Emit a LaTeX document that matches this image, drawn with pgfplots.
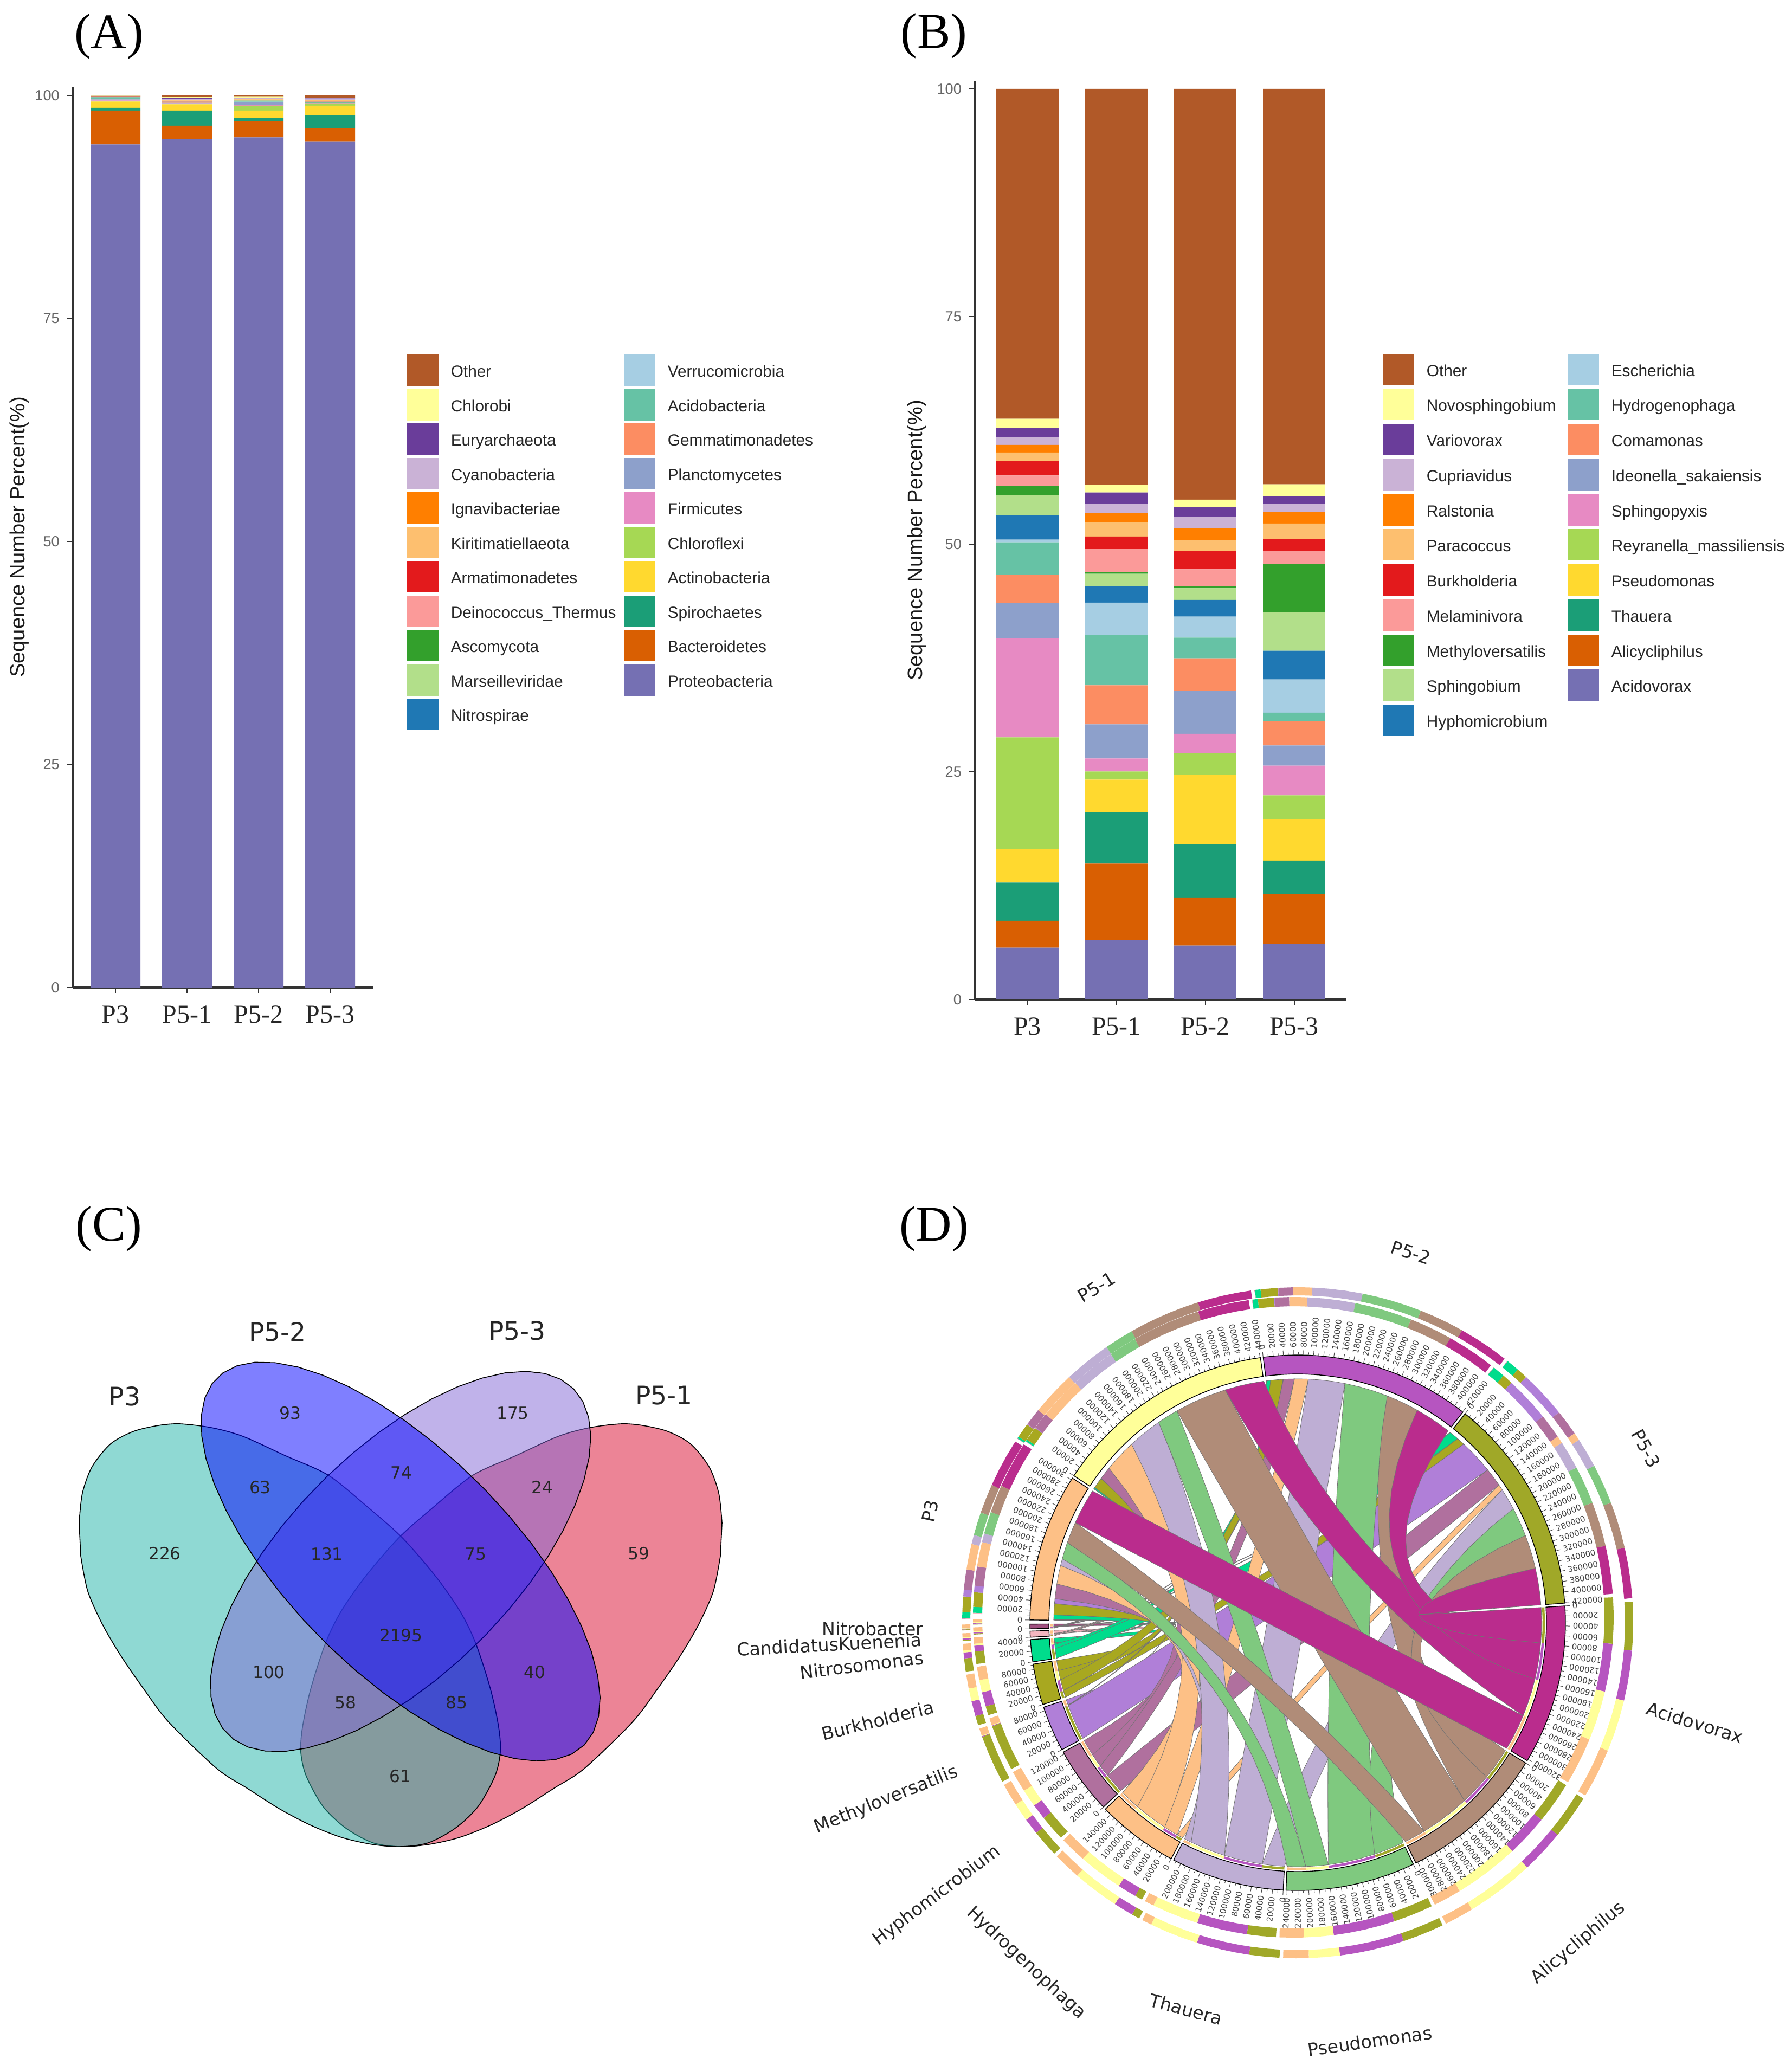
\documentclass[border=0pt]{standalone}
\usepackage{fontspec}
\usepackage{pgfplots}
\usepackage{pgfplotstable}
\pgfplotsset{compat=1.18}
\setmainfont{Liberation Sans}
\newfontfamily\tnr{Liberation Serif}
\newfontfamily\dejavu{DejaVu Sans}

% taxa colours, bottom of the stack first
\definecolor{c1}{HTML}{7570B3}\definecolor{c2}{HTML}{D95F02}\definecolor{c3}{HTML}{1B9E77}
\definecolor{c4}{HTML}{FFD92F}\definecolor{c5}{HTML}{A6D854}\definecolor{c6}{HTML}{E78AC3}
\definecolor{c7}{HTML}{8DA0CB}\definecolor{c8}{HTML}{FC8D62}\definecolor{c9}{HTML}{66C2A5}
\definecolor{c10}{HTML}{A6CEE3}\definecolor{c11}{HTML}{1F78B4}\definecolor{c12}{HTML}{B2DF8A}
\definecolor{c13}{HTML}{33A02C}\definecolor{c14}{HTML}{FB9A99}\definecolor{c15}{HTML}{E31A1C}
\definecolor{c16}{HTML}{FDBF6F}\definecolor{c17}{HTML}{FF7F00}\definecolor{c18}{HTML}{CAB2D6}
\definecolor{c19}{HTML}{6A3D9A}\definecolor{c20}{HTML}{FFFF99}\definecolor{c21}{HTML}{B15928}
% chord diagram: genera and samples
\definecolor{g1}{HTML}{BA2C8D}\definecolor{g2}{HTML}{B08C78}\definecolor{g3}{HTML}{7FC97F}
\definecolor{g4}{HTML}{BEAED4}\definecolor{g5}{HTML}{FDC086}\definecolor{g6}{HTML}{B0709E}
\definecolor{g7}{HTML}{B07FD8}\definecolor{g8}{HTML}{A8A820}\definecolor{g9}{HTML}{00DC8C}
\definecolor{g10}{HTML}{F4B6C0}\definecolor{g11}{HTML}{A05080}
\definecolor{sc1}{HTML}{FDC086}\definecolor{sc2}{HTML}{FFFF99}
\definecolor{sc3}{HTML}{B655C0}\definecolor{sc4}{HTML}{A0A828}
% venn
\definecolor{vA}{RGB}{31,179,167}\definecolor{vB}{RGB}{0,0,255}
\definecolor{vC}{RGB}{129,101,213}\definecolor{vD}{RGB}{217,9,45}

\pgfplotstableread{
pos c1 c2 c3 c4 c5 c6 c7 c8 c9 c10 c11 c12 c13 c14 c15 c16 c17 c18 c19 c20 c21
0 94.5 3.8 0.3 0.7 0.05 0.08 0.12 0.08 0.07 0.04 0.04 0.03 0.01 0.02 0.02 0.01 0.02 0.03 0.02 0.04 0.02
1 95.1 1.5 1.7 0.7 0.05 0.05 0.05 0.03 0.03 0.02 0.02 0.02 0.01 0.05 0.05 0.05 0.03 0.15 0.10 0.10 0.19
2 95.3 1.8 0.4 0.8 0.55 0.05 0.30 0.05 0.05 0.05 0.03 0.03 0.01 0.03 0.03 0.07 0.03 0.10 0.05 0.10 0.17
3 94.8 1.5 1.5 1.05 0.20 0.03 0.03 0.05 0.05 0.02 0.02 0.02 0.01 0.05 0.05 0.07 0.05 0.15 0.05 0.05 0.25
}\tabA
\pgfplotstableread{
pos c1 c2 c3 c4 c5 c6 c7 c8 c9 c10 c11 c12 c13 c14 c15 c16 c17 c18 c19 c20 c21
0 5.68 2.96 4.19 3.70 12.25 10.85 3.90 3.06 3.61 0.30 2.70 2.20 0.96 1.18 1.58 0.94 0.84 0.84 0.99 1.04 36.23
1 6.52 8.39 5.67 3.56 0.89 1.43 3.75 4.29 5.53 3.55 1.78 1.38 0.20 2.52 1.38 1.58 0.99 1.03 1.24 0.84 43.48
2 5.92 5.28 5.83 7.65 2.37 2.12 4.69 3.60 2.27 2.32 1.83 1.28 0.25 1.83 1.97 1.23 1.29 1.28 1.04 0.84 45.11
3 6.07 5.48 3.70 4.54 2.62 3.26 2.22 2.66 0.94 3.65 3.16 4.20 5.33 1.38 1.38 1.68 1.28 0.89 0.79 1.33 43.44
}\tabB

\tikzset{
  rib/.style={draw=black!55,line width=0.2pt},
  tl/.style={inner sep=0pt,text=black!75,font=\dejavu\fontsize{3.7}{4}\selectfont},
  dl/.style={inner sep=0pt,text=black!85,font=\dejavu\fontsize{8.3}{9}\selectfont},
  vl/.style={inner sep=0pt,text=black!85,font=\dejavu\fontsize{11.8}{13}\selectfont},
  pl/.style={inner sep=0pt,font=\tnr\fontsize{23}{24}\selectfont},
  ll/.style={inner sep=0pt,anchor=west,text=black!85,text height=1.5ex,text depth=.3ex,font=\fontsize{7.45}{9}\selectfont},
}
\pgfplotsset{
  barpanel/.style={
    scale only axis,ybar stacked,axis lines=left,
    axis line style={-,line width=1pt,color=black!80},
    xtick={0,1,2,3},xticklabels={P3,P5-1,P5-2,P5-3},
    ytick={0,25,50,75,100},ymin=0,
    /pgf/number format/assume math mode=true,
    tick style={color=black!80,line width=0.5pt},major tick length=2.5pt,tick align=outside,
    x tick label style={font=\tnr\fontsize{12}{13}\selectfont,text=black!85,yshift=-2.5pt},
    y tick label style={font=\fontsize{6.8}{8}\selectfont,text=black!60},
    ylabel={Sequence Number Percent(\%)},
    ylabel style={font=\fontsize{9.5}{11}\selectfont,text=black!90},
  },
}

% ---- chord diagram: reads per sample (columns P3, P5-1, P5-2, P5-3), thousands
\foreach \g/\a/\b/\c/\d in {
  1/80/84/81/78, 2/48/112/72/72, 3/38/46/96/62, 4/15/74/80/46, 5/42/70/30/12, 6/33/27/24/40,
  7/11/1/1/74, 8/25/23/27/17, 9/10/3/9/20, 10/1/0.3/0.3/0.3, 11/1/0.3/0.3/0.3}{%
  \expandafter\xdef\csname f\g-1\endcsname{\a}%
  \expandafter\xdef\csname f\g-2\endcsname{\b}%
  \expandafter\xdef\csname f\g-3\endcsname{\c}%
  \expandafter\xdef\csname f\g-4\endcsname{\d}%
}
\def\F#1#2{\csname f#1-#2\endcsname}
\def\CX{2394}\def\CY{2994}\def\CXB{2386}\def\CYB{2984}\def\RR{450}
\gdef\drawlist{}
\newcommand\addto[1]{\xdef\drawlist{\unexpanded\expandafter{\drawlist}#1}}

% sector limits, degrees; clockwise from the start
\foreach \s/\st/\en in {1/179.4/147.3,2/146.7/98.0,3/97.4/51.9,4/51.3/4.2}{%
  \gdef\cum{0}%
  \foreach \g in {1,...,11}{\edef\v{\F\g\s}\pgfmathsetmacro\tmp{\cum+\v}\xdef\cum{\tmp}}%
  \pgfmathsetmacro\kk{(\st-\en)/\cum}%
  \expandafter\xdef\csname sSum\s\endcsname{\cum}%
  \expandafter\xdef\csname sK\s\endcsname{\kk}%
  \expandafter\xdef\csname sSt\s\endcsname{\st}%
  \expandafter\xdef\csname sEn\s\endcsname{\en}%
  \xdef\cur{\st}%
  \foreach \g in {11,10,...,1}{%
    \edef\v{\F\g\s}\pgfmathsetmacro\nx{\cur-\v*\kk}%
    \expandafter\xdef\csname sa\s-\g\endcsname{\cur}%
    \expandafter\xdef\csname sb\s-\g\endcsname{\nx}%
    \xdef\cur{\nx}}%
}
\foreach \g/\st/\en in {1/3.6/-31.0,2/-31.6/-63.8,3/-64.4/-92.5,4/-93.1/-117.6,5/-118.2/-135.9,
  6/-136.5/-151.1,7/-151.7/-161.6,8/-162.2/-171.1,9/-171.6/-176.4,10/-176.9/-178.2,11/-178.7/-179.7}{%
  \gdef\cum{0}%
  \foreach \s in {1,2,3,4}{\edef\v{\F\g\s}\pgfmathsetmacro\tmp{\cum+\v}\xdef\cum{\tmp}}%
  \pgfmathsetmacro\kk{(\st-\en)/\cum}%
  \expandafter\xdef\csname gSum\g\endcsname{\cum}%
  \expandafter\xdef\csname gK\g\endcsname{\kk}%
  \expandafter\xdef\csname gSt\g\endcsname{\st}%
  \expandafter\xdef\csname gEn\g\endcsname{\en}%
  \xdef\cur{\st}%
  \foreach \s in {4,3,2,1}{%
    \edef\v{\F\g\s}\pgfmathsetmacro\nx{\cur-\v*\kk}%
    \expandafter\xdef\csname ga\g-\s\endcsname{\cur}%
    \expandafter\xdef\csname gb\g-\s\endcsname{\nx}%
    \xdef\cur{\nx}}%
}

% #1 #2 centre, #3 #4 angles, #5 radius, #6 steps
\newcommand\arcpts[6]{\foreach \I in {0,...,#6}{%
  \pgfmathsetmacro\T{#3+(#4-#3)*\I/#6}%
  \pgfmathsetmacro\X{#1+#5*cos(\T)}\pgfmathsetmacro\Y{#2-#5*sin(\T)}%
  \xdef\pts{\pts(\X,\Y)}}}
% curve from angle #1 to angle #2; #3 #4 push the control point
\newcommand\bez[4]{%
  \pgfmathsetmacro\xa{\RR*cos(#1)}\pgfmathsetmacro\ya{\RR*sin(#1)}%
  \pgfmathsetmacro\xb{\RR*cos(#2)}\pgfmathsetmacro\yb{\RR*sin(#2)}%
  \pgfmathsetmacro\mx{(\xa+\xb)/2}\pgfmathsetmacro\my{(\ya+\yb)/2}%
  \pgfmathsetmacro\hh{1-veclen(\mx,\my)/\RR}%
  \pgfmathsetmacro\qx{\mx*\hh+#3}\pgfmathsetmacro\qy{\my*\hh+#4}%
  \foreach \I in {1,...,13}{%
    \pgfmathsetmacro\T{\I/14}%
    \pgfmathsetmacro\X{\CX+(1-\T)*(1-\T)*\xa+2*\T*(1-\T)*\qx+\T*\T*\xb}%
    \pgfmathsetmacro\Y{\CY-((1-\T)*(1-\T)*\ya+2*\T*(1-\T)*\qy+\T*\T*\yb)}%
    \xdef\pts{\pts(\X,\Y)}}}

% outer tracks
\foreach \s in {1,2,3,4}{\foreach \g in {11,10,...,1}{%
  \edef\aa{\csname sa\s-\g\endcsname}\edef\ab{\csname sb\s-\g\endcsname}%
  \pgfmathtruncatemacro\nn{abs(\aa-\ab)/3+1}%
  \gdef\pts{}\arcpts{\CX}{\CY}{\aa}{\ab}{611.5}{\nn}%
  \addto{\noexpand\addplot[draw=g\g,line width=3.75pt] coordinates {\pts};}%
  \gdef\pts{}\arcpts{\CXB}{\CYB}{\aa}{\ab}{582.5}{\nn}%
  \addto{\noexpand\addplot[draw=g\g,line width=4.25pt] coordinates {\pts};}%
}}
\foreach \g in {1,...,11}{\foreach \s in {4,3,2,1}{%
  \edef\aa{\csname ga\g-\s\endcsname}\edef\ab{\csname gb\g-\s\endcsname}%
  \pgfmathtruncatemacro\nn{abs(\aa-\ab)/3+1}%
  \gdef\pts{}\arcpts{\CX}{\CY}{\aa}{\ab}{611.5}{\nn}%
  \addto{\noexpand\addplot[draw=sc\s,line width=3.75pt] coordinates {\pts};}%
  \gdef\pts{}\arcpts{\CXB}{\CYB}{\aa}{\ab}{582.5}{\nn}%
  \addto{\noexpand\addplot[draw=sc\s,line width=4.25pt] coordinates {\pts};}%
}}

% ribbons: widest first so that the magenta ones stay on top
\foreach \g in {11,10,...,1}{\foreach \s in {1,2,3,4}{%
  \edef\aa{\csname sa\s-\g\endcsname}\edef\ab{\csname sb\s-\g\endcsname}%
  \edef\ba{\csname ga\g-\s\endcsname}\edef\bb{\csname gb\g-\s\endcsname}%
  \pgfmathsetmacro\am{(\aa+\ab)/2}\pgfmathsetmacro\bm{(\ba+\bb)/2}%
  \pgfmathsetmacro\dx{cos(\am)+cos(\bm)}\pgfmathsetmacro\dy{sin(\am)+sin(\bm)}%
  \pgfmathsetmacro\dl{veclen(\dx,\dy)+0.001}%
  \pgfmathsetmacro\Sp{2*acos(min(1,\dl/2))}%
  \pgfmathsetmacro\fS{min(\Sp/60,1)*min(1,max(0,(180-\Sp)/60))}%
  \pgfmathsetmacro\off{(\aa-\ab+\ba-\bb)*\fS}%
  \pgfmathsetmacro\ox{-\off*\dx/\dl}\pgfmathsetmacro\oy{-\off*\dy/\dl}%
  \pgfmathsetmacro\ix{-\ox}\pgfmathsetmacro\iy{-\oy}%
  \pgfmathtruncatemacro\cw{mod(\am-\bm+720,360)<180}%
  \gdef\pts{}\arcpts{\CX}{\CY}{\aa}{\ab}{\RR}{3}%
  \ifnum\cw=1 \bez{\ab}{\ba}{\ix}{\iy}\else\bez{\ab}{\ba}{\ox}{\oy}\fi
  \arcpts{\CX}{\CY}{\ba}{\bb}{\RR}{3}%
  \ifnum\cw=1 \bez{\bb}{\aa}{\ox}{\oy}\else\bez{\bb}{\aa}{\ix}{\iy}\fi
  \addto{\noexpand\addplot[rib,fill=g\g] coordinates {\pts} --cycle;}%
}}
% thin stripes of the sample colour where a ribbon meets its genus
\foreach \g in {1,...,11}{\foreach \s in {4,3,2,1}{%
  \edef\aa{\csname ga\g-\s\endcsname}\edef\ab{\csname gb\g-\s\endcsname}%
  \gdef\pts{}\arcpts{\CX}{\CY}{\aa}{\ab}{454}{3}%
  \addto{\noexpand\addplot[draw=sc\s,line width=1.1pt] coordinates {\pts};}%
}}

% sector bands, ticks and tick labels: #1 colour, #2 start, #3 end, #4 sum, #5 k, #6 0 sample / 1 genus
\newcommand\sector[6]{%
  \pgfmathtruncatemacro\nn{abs(#2-#3)/2+2}%
  \gdef\pts{}\arcpts{\CX}{\CY}{#2}{#3}{494}{\nn}\arcpts{\CX}{\CY}{#3}{#2}{459}{\nn}%
  \addto{\noexpand\addplot[draw=black,line width=0.35pt,fill=#1] coordinates {\pts} --cycle;}%
  \gdef\tks{}%
  \foreach \v in {0,10,...,450}{%
    \ifdim\v pt>#4pt\else
      \pgfmathsetmacro\ang{#2-\v*#5}%
      \pgfmathtruncatemacro\isMajor{mod(\v,20)==0}%
      \pgfmathsetmacro\rt{\isMajor==1?503:499}%
      \pgfmathsetmacro\Xa{\CX+494*cos(\ang)}\pgfmathsetmacro\Ya{\CY-494*sin(\ang)}%
      \pgfmathsetmacro\Xb{\CX+\rt*cos(\ang)}\pgfmathsetmacro\Yb{\CY-\rt*sin(\ang)}%
      \xdef\tks{\tks(\Xa,\Ya)(\Xb,\Yb)(nan,nan)}%
      \ifnum\isMajor=1
        \pgfmathsetmacro\Xc{\CX+507*cos(\ang)}\pgfmathsetmacro\Yc{\CY-507*sin(\ang)}%
        \ifnum\v=0 \gdef\lab{0}\else\xdef\lab{\v000}\fi
        \ifnum#6=0
          \addto{\noexpand\node[tl,rotate=\ang,anchor=west] at (\Xc,\Yc) {\lab};}%
        \else
          \pgfmathsetmacro\rr{\ang+180}%
          \addto{\noexpand\node[tl,rotate=\rr,anchor=east] at (\Xc,\Yc) {\lab};}%
        \fi
      \fi
    \fi}%
  \addto{\noexpand\addplot[draw=black!70,line width=0.25pt,unbounded coords=jump] coordinates {\tks};}%
}
\foreach \s in {1,2,3,4}{%
  \edef\sa{\csname sSt\s\endcsname}\edef\sb{\csname sEn\s\endcsname}%
  \edef\sm{\csname sSum\s\endcsname}\edef\sk{\csname sK\s\endcsname}%
  \sector{sc\s}{\sa}{\sb}{\sm}{\sk}{0}}
\foreach \g in {1,...,11}{%
  \edef\sa{\csname gSt\g\endcsname}\edef\sb{\csname gEn\g\endcsname}%
  \edef\sm{\csname gSum\g\endcsname}\edef\sk{\csname gK\g\endcsname}%
  \sector{g\g}{\sa}{\sb}{\sm}{\sk}{1}}

% ---- venn outlines. The two outer shapes are read off as points, the inner two are ellipses
\gdef\vP{}\gdef\vQ{}
\foreach \X/\Y in {146/2810,152/2755,170/2706,204/2664,246/2641,292/2630,332/2627,390/2634,448/2650,
  527/2686,606/2722,680/2782,743/2838,805/2910,850/2975,878/3033,905/3117,920/3187,923/3233,913/3277,
  882/3333,840/3373,790/3400,739/3407,687/3403,630/3390,572/3367,515/3337,457/3300,400/3263,311/3177,
  265/3116,223/3055,189/2997,162/2936,149/2871}{%
  \pgfmathsetmacro\Xm{1478-\X}%
  \xdef\vP{\vP(\X,\Y)}\xdef\vQ{\vQ(\Xm,\Y)}}
\newcommand\ellpts[3]{% #1 long half axis, #2 short half axis, #3 tilt
  \gdef\pts{}\foreach \T in {0,8,...,352}{%
    \pgfmathsetmacro\X{739+#1*cos(\T)*cos(#3)-#2*sin(\T)*sin(#3)}%
    \pgfmathsetmacro\Y{2881+#1*cos(\T)*sin(#3)+#2*sin(\T)*cos(#3)}%
    \xdef\pts{\pts(\X,\Y)}}}
\ellpts{479}{204}{45}\xdef\vR{\pts}
\ellpts{451}{207}{-45}\xdef\vS{\pts}

\newcommand\legkey[4]{%
  \fill[#3] ({#1},{#2-29}) rectangle ({#1+58},{#2+29});
  \node[ll] at ({#1+80},#2) {#4};}

\begin{document}
\begin{tikzpicture}
\path[use as bounding box] (0,0) rectangle (826.5pt,952.5pt);

\begin{axis}[barpanel,at={(33.5pt,497pt)},anchor=south west,width=138.5pt,height=415.5pt,
  bar width=0.697,xmin=-0.6,xmax=3.598,ymax=100.97,
  ylabel style={at={(axis description cs:-0.178,0.5)},anchor=center}]
\pgfplotsinvokeforeach{1,...,21}{\addplot[fill=c#1,draw=none] table[x=pos,y=c#1] {\tabA};}
\end{axis}

\begin{axis}[barpanel,at={(449.5pt,491.5pt)},anchor=south west,width=171.5pt,height=423.5pt,
  bar width=0.70,xmin=-0.594,xmax=3.588,ymax=100.83,
  ylabel style={at={(axis description cs:-0.1545,0.5)},anchor=center}]
\pgfplotsinvokeforeach{1,...,21}{\addplot[fill=c#1,draw=none] table[x=pos,y=c#1] {\tabB};}
\end{axis}

% page-sized axis in reference pixels: legends, venn and chord diagram
\begin{axis}[at={(0,0)},anchor=south west,scale only axis,width=826.5pt,height=952.5pt,
  xmin=0,xmax=3306,ymin=0,ymax=3810,y dir=reverse,hide axis,clip=false]

\node[pl] at (201,67) {(A)};
\node[pl] at (1723,66) {(B)};
\node[pl] at (201,2267) {(C)};
\node[pl] at (1723,2267) {(D)};

\legkey{751}{683}{c21}{Other}
\legkey{751}{746.5}{c20}{Chlorobi}
\legkey{751}{810}{c19}{Euryarchaeota}
\legkey{751}{873.5}{c18}{Cyanobacteria}
\legkey{751}{937}{c17}{Ignavibacteriae}
\legkey{751}{1000.5}{c16}{Kiritimatiellaeota}
\legkey{751}{1064}{c15}{Armatimonadetes}
\legkey{751}{1127.5}{c14}{Deinococcus\_Thermus}
\legkey{751}{1191}{c13}{Ascomycota}
\legkey{751}{1254.5}{c12}{Marseilleviridae}
\legkey{751}{1318}{c11}{Nitrospirae}
\legkey{1151}{683}{c10}{Verrucomicrobia}
\legkey{1151}{746.5}{c9}{Acidobacteria}
\legkey{1151}{810}{c8}{Gemmatimonadetes}
\legkey{1151}{873.5}{c7}{Planctomycetes}
\legkey{1151}{937}{c6}{Firmicutes}
\legkey{1151}{1000.5}{c5}{Chloroflexi}
\legkey{1151}{1064}{c4}{Actinobacteria}
\legkey{1151}{1127.5}{c3}{Spirochaetes}
\legkey{1151}{1191}{c2}{Bacteroidetes}
\legkey{1151}{1254.5}{c1}{Proteobacteria}

\legkey{2551}{681.5}{c21}{Other}
\legkey{2551}{746.25}{c20}{Novosphingobium}
\legkey{2551}{811}{c19}{Variovorax}
\legkey{2551}{875.75}{c18}{Cupriavidus}
\legkey{2551}{940.5}{c17}{Ralstonia}
\legkey{2551}{1005.25}{c16}{Paracoccus}
\legkey{2551}{1070}{c15}{Burkholderia}
\legkey{2551}{1134.75}{c14}{Melaminivora}
\legkey{2551}{1199.5}{c13}{Methyloversatilis}
\legkey{2551}{1264.25}{c12}{Sphingobium}
\legkey{2551}{1329}{c11}{Hyphomicrobium}
\legkey{2892}{681.5}{c10}{Escherichia}
\legkey{2892}{746.25}{c9}{Hydrogenophaga}
\legkey{2892}{811}{c8}{Comamonas}
\legkey{2892}{875.75}{c7}{Ideonella\_sakaiensis}
\legkey{2892}{940.5}{c6}{Sphingopyxis}
\legkey{2892}{1005.25}{c5}{Reyranella\_massiliensis}
\legkey{2892}{1070}{c4}{Pseudomonas}
\legkey{2892}{1134.75}{c3}{Thauera}
\legkey{2892}{1199.5}{c2}{Alicycliphilus}
\legkey{2892}{1264.25}{c1}{Acidovorax}

% venn
\addplot[smooth,fill=vD,fill opacity=0.5,draw=black,line width=0.4pt] coordinates {\vQ} --cycle;
\addplot[smooth,fill=vA,fill opacity=0.5,draw=black,line width=0.4pt] coordinates {\vP} --cycle;
\addplot[fill=vC,fill opacity=0.5,draw=black,line width=0.4pt] coordinates {\vS} --cycle;
\addplot[fill=vB,fill opacity=0.5,draw=black,line width=0.4pt] coordinates {\vR} --cycle;
\addplot[only marks,mark=none,nodes near coords,point meta=explicit symbolic,
  nodes near coords style={anchor=center,inner sep=0pt,text=black!85,font=\dejavu\fontsize{7.8}{9}\selectfont}]
  table[meta=label] {
x y label
304 2866 226
535 2607 93
946 2607 175
1178 2866 59
480 2744 63
740 2717 74
1000 2744 24
603 2867 131
877 2867 75
496 3085 100
740 3017 2195
986 3085 40
637 3141 58
842 3141 85
738 3277 61
};
\node[vl] at (230,2576) {P3};
\node[vl] at (512,2457) {P5-2};
\node[vl] at (954,2455) {P5-3};
\node[vl] at (1225,2575) {P5-1};

% chord diagram
\drawlist
\node[dl,rotate=78] at (1716,2788) {P3};
\node[dl,rotate=31] at (2023,2375) {P5-1};
\node[dl,rotate=-18] at (2603,2311) {P5-2};
\node[dl,rotate=-62] at (3037,2673) {P5-3};
\node[dl,rotate=-17] at (3127,3178) {Acidovorax};
\node[dl,rotate=40] at (2912,3585) {Alicycliphilus};
\node[dl,rotate=8] at (2527,3766) {Pseudomonas};
\node[dl,rotate=-15] at (2188,3707) {Thauera};
\node[dl,rotate=-43] at (1893,3622) {Hydrogenophaga};
\node[dl,rotate=37] at (1728,3498) {Hyphomicrobium};
\node[dl,rotate=22] at (1635,3321) {Methyloversatilis};
\node[dl,rotate=14] at (1619,3174) {Burkholderia};
\node[dl,rotate=7] at (1590,3072) {Nitrosomonas};
\node[dl,rotate=3] at (1530,3034) {CandidatusKuenenia};
\node[dl] at (1610,3005) {Nitrobacter};
\end{axis}
\end{tikzpicture}
\end{document}
